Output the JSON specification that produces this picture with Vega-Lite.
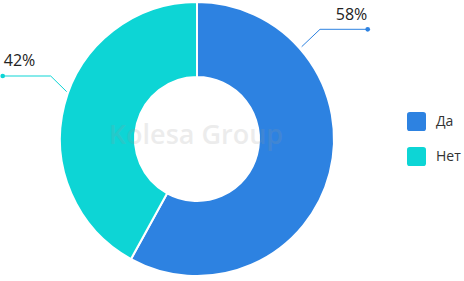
{
  "$schema": "https://vega.github.io/schema/vega-lite/v6.json",
  "width": 394,
  "height": 278,
  "padding": {"left": 0, "top": 0, "right": 70, "bottom": 3},
  "autosize": {"type": "none"},
  "background": "white",
  "config": {"view": {"stroke": null}},
  "layer": [
    {
      "data": {"values": [
        {"category": "Да", "value": 58, "order": 1},
        {"category": "Нет", "value": 42, "order": 2}
      ]},
      "mark": {"type": "arc", "outerRadius": 137, "innerRadius": 62, "stroke": "white", "strokeWidth": 2},
      "encoding": {
        "theta": {"field": "value", "type": "quantitative", "stack": true},
        "order": {"field": "order", "type": "quantitative"},
        "color": {
          "field": "category", "type": "nominal",
          "scale": {"domain": ["Да", "Нет"], "range": ["#2d82e1", "#0dd5d5"]},
          "legend": {
            "title": null, "orient": "none", "legendX": 407, "legendY": 112,
            "symbolType": "M-1,-0.7Q-1,-1,-0.7,-1L0.7,-1Q1,-1,1,-0.7L1,0.7Q1,1,0.7,1L-0.7,1Q-1,1,-1,0.7Z",
            "symbolSize": 361, "symbolStrokeWidth": 0, "symbolOpacity": 1,
            "labelFont": "Open Sans", "labelFontSize": 14, "labelColor": "#333333",
            "labelOffset": 10, "rowPadding": 16
          }
        }
      }
    },
    {
      "data": {"values": [
        {"category": "Да", "seq": 1, "x": 104.7, "y": 92.3},
        {"category": "Да", "seq": 2, "x": 123, "y": 109.7},
        {"category": "Да", "seq": 3, "x": 170.7, "y": 109.7},
        {"category": "Нет", "seq": 1, "x": -130.3, "y": 47.3},
        {"category": "Нет", "seq": 2, "x": -146.3, "y": 63},
        {"category": "Нет", "seq": 3, "x": -194.3, "y": 63}
      ]},
      "mark": {"type": "line", "strokeWidth": 1},
      "encoding": {
        "x": {"field": "x", "type": "quantitative", "scale": {"domain": [-197, 197], "nice": false, "zero": false}, "axis": null},
        "y": {"field": "y", "type": "quantitative", "scale": {"domain": [-139, 139], "nice": false, "zero": false}, "axis": null},
        "order": {"field": "seq", "type": "quantitative"},
        "color": {"field": "category", "type": "nominal"}
      }
    },
    {
      "data": {"values": [
        {"category": "Да", "x": 170.7, "y": 109.7},
        {"category": "Нет", "x": -194.3, "y": 63}
      ]},
      "mark": {"type": "point", "filled": true, "size": 22, "opacity": 1},
      "encoding": {
        "x": {"field": "x", "type": "quantitative"},
        "y": {"field": "y", "type": "quantitative"},
        "color": {"field": "category", "type": "nominal"}
      }
    },
    {
      "data": {"values": [
        {"label": "58%", "x": 154.5, "y": 119},
        {"label": "42%", "x": -177.5, "y": 73}
      ]},
      "mark": {"type": "text", "font": "Open Sans", "fontSize": 16, "color": "#222222", "align": "center", "baseline": "alphabetic"},
      "encoding": {
        "x": {"field": "x", "type": "quantitative"},
        "y": {"field": "y", "type": "quantitative"},
        "text": {"field": "label"}
      }
    },
    {
      "data": {"values": [{"label": "Kolesa Group", "x": -1, "y": -5}]},
      "mark": {"type": "text", "font": "Open Sans", "fontSize": 27, "fontWeight": 600, "color": "#999999", "opacity": 0.18, "align": "center", "baseline": "alphabetic"},
      "encoding": {
        "x": {"field": "x", "type": "quantitative"},
        "y": {"field": "y", "type": "quantitative"},
        "text": {"field": "label"}
      }
    }
  ]
}
